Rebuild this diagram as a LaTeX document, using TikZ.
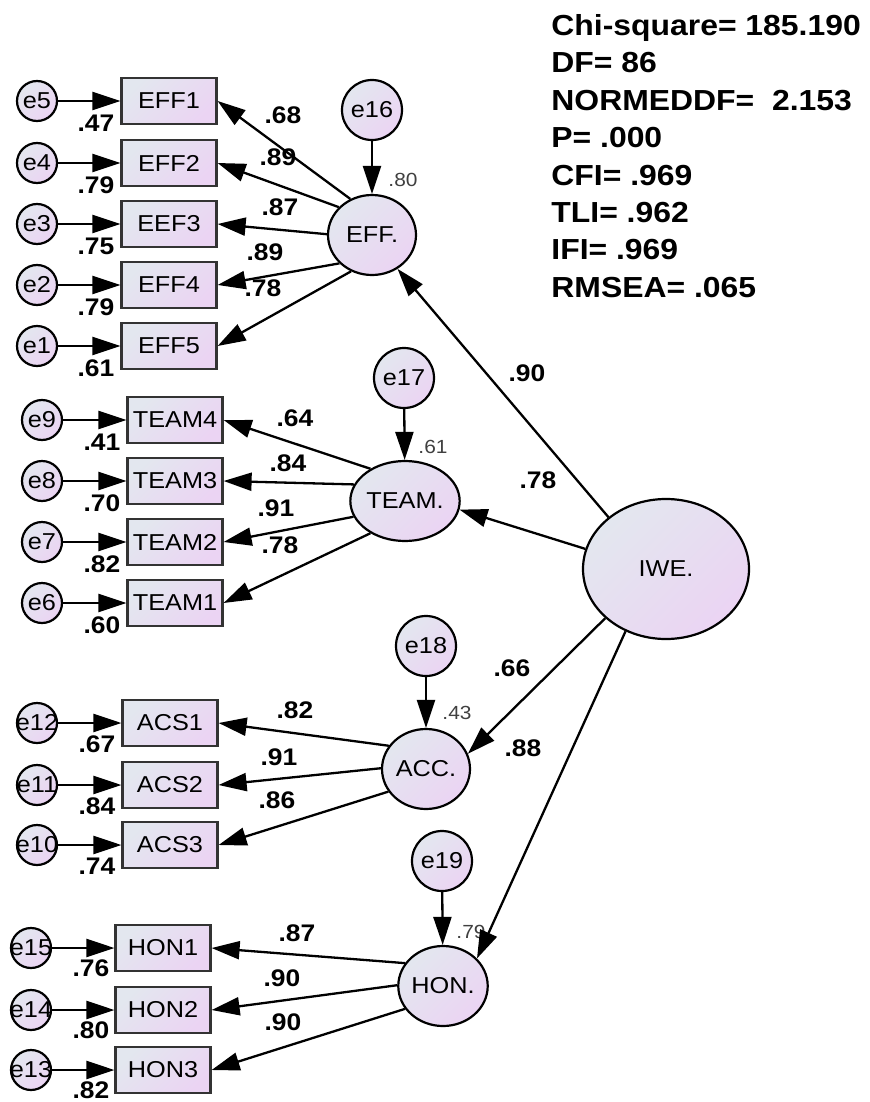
\documentclass[tikz,border=0pt]{standalone}
\usepackage{fontspec}
\setmainfont{Liberation Sans}[FakeStretch=1.1]
\usetikzlibrary{positioning,arrows.meta,shapes.geometric}
\definecolor{semA}{HTML}{E3E7EF}
\definecolor{semB}{HTML}{EBD4F3}
\definecolor{rsqGray}{HTML}{404040}

\begin{document}
\begin{tikzpicture}[x=0.5pt,y=-0.5pt,font=\fontsize{11.5}{13}\selectfont,
      semfill/.style={top color=semA,bottom color=semB,shading angle=45,draw,line width=1.1pt},
      indic/.style={semfill,rectangle,draw=black!80,minimum width=47.5pt,minimum height=23pt,inner sep=0pt},
      errc/.style={semfill,circle,minimum size=20pt,inner sep=0pt},
      disturb/.style={semfill,circle,minimum size=30pt,inner sep=0pt},
      latent/.style={semfill,ellipse,minimum width=44pt,minimum height=40pt,inner sep=0pt},
      coef/.style={font=\fontsize{12}{14}\selectfont\bfseries,inner sep=0pt},
      rsq/.style={font=\fontsize{9.5}{11}\selectfont,text=rsqGray,inner sep=0pt},
      regarrow/.style={-{Triangle[length=14pt,width=9pt]},line width=1.15pt},
      fitline/.style={font=\fontsize{14.5}{17}\selectfont\bfseries,anchor=base west,inner sep=0pt}]
    \useasboundingbox (0,0) rectangle (869,1102);

    % fit indices
    \foreach \txt [count=\i from 0] in {Chi-square= 185.190,DF= 86,NORMEDDF=\ \ 2.153,P= .000,CFI= .969,TLI= .962,IFI= .969,RMSEA= .065}
      \node[fitline] (fit\i) at (551,35.4+37.4*\i) {\txt};

    % second order factor
    \node[latent,minimum width=83pt,minimum height=70pt] (iwe) at (666,569) {IWE.};

    % first order factors
    \node[latent] (eff) at (372,235) {EFF.};
    \node[latent] (team) at (405,501) {TEAM.};
    \node[latent] (acc) at (426,769) {ACC.};
    \node[latent] (hon) at (443,986) {HON.};
    \node[disturb] (e16) at (372,110) {e16};
    \node[disturb] (e17) at (404,378) {e17};
    \node[disturb] (e18) at (426,646) {e18};
    \node[disturb] (e19) at (442,861) {e19};
    \node[rsq] (r-eff) at (403,180) {.80};
    \node[rsq] (r-team) at (433,447) {.61};
    \node[rsq] (r-acc) at (457,713) {.43};
    \node[rsq] (r-hon) at (471,932) {.79};
    \draw[regarrow] (e16) -- (eff);
    \draw[regarrow] (e17) -- (team);
    \draw[regarrow] (e18) -- (acc);
    \draw[regarrow] (e19) -- (hon);

    \draw[regarrow] (iwe.138) -- (eff.307);
    \draw[regarrow] (iwe.166) -- (team.351);
    \draw[regarrow] (iwe.219) -- (acc.20);
    \draw[regarrow] (iwe.237) -- (hon.39);
    \node[coef] (b-eff) at (527,373) {.90};
    \node[coef] (b-team) at (538,480) {.78};
    \node[coef] (b-acc) at (512,668) {.66};
    \node[coef] (b-hon) at (523,748) {.88};

    % EFF items
    \foreach \nm/\er/\lab/\y/\an/\ld/\lx/\ly/\rs in {EFF1/e5/eff1/101/121/.68/283/115/.47,EFF2/e4/eff2/163/140/.89/278/157/.79,
        EEF3/e3/eff3/224/179/.87/280/207/.75,EFF4/e2/eff4/285/221/.89/265/252/.79,EFF5/e1/eff5/346/240/.78/263/288/.61}{
      \node[indic] (\lab) at (169,\y) {\nm};
      \node[errc] (\er) at (37,\y) {\makebox[0pt]{\er}};
      \draw[regarrow] (\er) -- (\lab);
      \draw[regarrow] (eff.\an) -- (\lab.east);
      \node[coef] (l-\lab) at (\lx,\ly) {\ld};
      \node[coef] (r-\lab) at (96,\y+22) {\rs};
    }

    % TEAM items
    \foreach \nm/\er/\lab/\y/\an/\ld/\lx/\ly/\rs in {TEAM4/e9/team4/420/137/.64/295/418/.41,TEAM3/e8/team3/481/162/.84/288/463/.70,
        TEAM2/e7/team2/542/197/.91/276/508/.82,TEAM1/e6/team1/603/223/.78/280/545/.60}{
      \node[indic] (\lab) at (175,\y) {\nm};
      \node[errc] (\er) at (42,\y) {\makebox[0pt]{\er}};
      \draw[regarrow] (\er) -- (\lab);
      \draw[regarrow] (team.\an) -- (\lab.east);
      \node[coef] (l-\lab) at (\lx,\ly) {\ld};
      \node[coef] (r-\lab) at (102,\y+22) {\rs};
    }

    % ACC items
    \foreach \nm/\er/\lab/\y/\an/\ld/\lx/\ly/\rs in {ACS1/e12/acs1/723/148/.82/295/710/.67,ACS2/e11/acs2/785/179/.91/279/757/.84,
        ACS3/e10/acs3/845/211/.86/277/800/.74}{
      \node[indic] (\lab) at (170,\y) {\nm};
      \node[errc] (\er) at (37,\y) {\makebox[0pt]{\er}};
      \draw[regarrow] (\er) -- (\lab);
      \draw[regarrow] (acc.\an) -- (\lab.east);
      \node[coef] (l-\lab) at (\lx,\ly) {\ld};
      \node[coef] (r-\lab) at (97,\y+21) {\rs};
    }

    % HON items
    \foreach \nm/\er/\lab/\y/\an/\ld/\lx/\ly/\rs in {HON1/e15/hon1/948/149/.87/297/933/.76,HON2/e14/hon2/1010/179/.90/282/978/.80,
        HON3/e13/hon3/1070/211/.90/283/1022/.82}{
      \node[indic] (\lab) at (163,\y) {\nm};
      \node[errc] (\er) at (31,\y) {\makebox[0pt]{\er}};
      \draw[regarrow] (\er) -- (\lab);
      \draw[regarrow] (hon.\an) -- (\lab.east);
      \node[coef] (l-\lab) at (\lx,\ly) {\ld};
      \node[coef] (r-\lab) at (91,\y+20) {\rs};
    }
  \end{tikzpicture}
\end{document}
